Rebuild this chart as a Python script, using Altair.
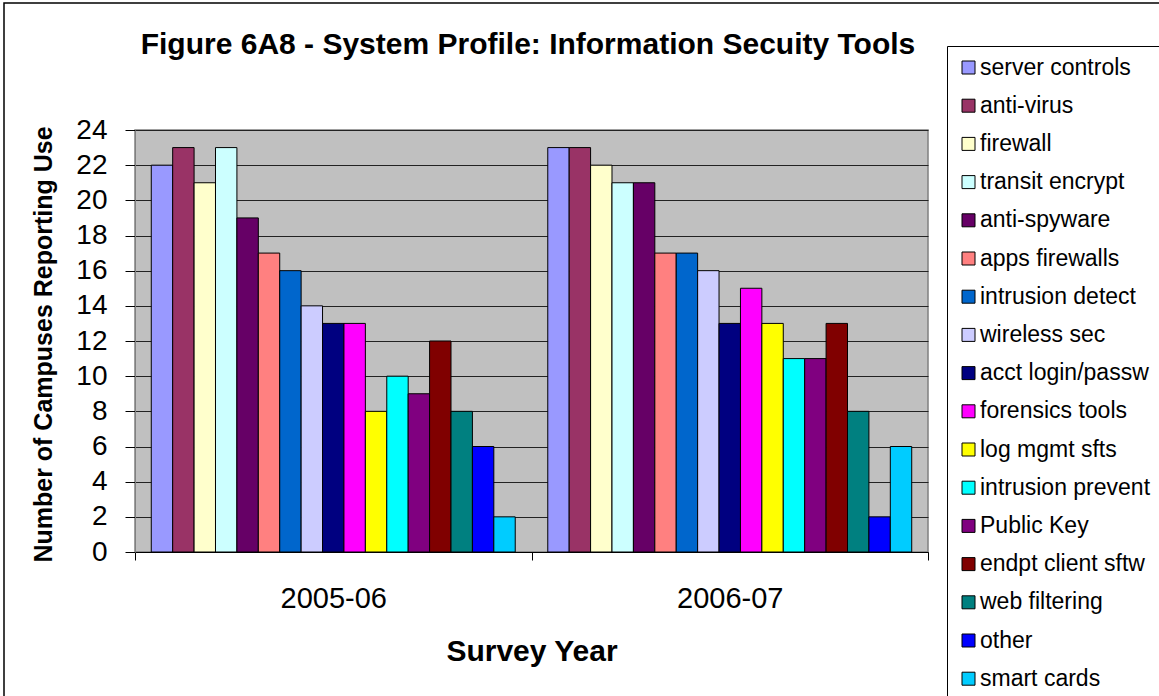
import altair as alt
import pandas as pd

years = ["2005-06", "2006-07"]
tools = ["server controls", "anti-virus", "firewall", "transit encrypt", "anti-spyware",
         "apps firewalls", "intrusion detect", "wireless sec", "acct login/passw",
         "forensics tools", "log mgmt sfts", "intrusion prevent", "Public Key",
         "endpt client sftw", "web filtering", "other", "smart cards"]
colors = ["#9999FF", "#993366", "#FFFFCC", "#CCFFFF", "#660066", "#FF8080", "#0066CC",
          "#CCCCFF", "#000080", "#FF00FF", "#FFFF00", "#00FFFF", "#800080", "#800000",
          "#008080", "#0000FF", "#00CCFF"]
v2005 = [22, 23, 21, 23, 19, 17, 16, 14, 13, 13, 8, 10, 9, 12, 8, 6, 2]
v2006 = [23, 23, 22, 21, 21, 17, 17, 16, 13, 15, 13, 11, 11, 13, 8, 2, 6]
title_text = "Figure 6A8 - System Profile: Information Secuity Tools"

rows = []
for y, vals in zip(years, [v2005, v2006]):
    for t, v in zip(tools, vals):
        rows.append({"year": y, "tool": t, "value": v})
df = pd.DataFrame(rows)

FONT = "Liberation Sans"

bars = alt.Chart(df).mark_bar(stroke="black", strokeWidth=1).encode(
    x=alt.X("year:N", sort=years,
            scale=alt.Scale(paddingInner=0, paddingOuter=0),
            axis=alt.Axis(title="Survey Year", labelAngle=0, tickBand="extent",
                          labelFontSize=29, labelFont=FONT, labelColor="black",
                          labelPadding=24, tickSize=8, tickColor="black",
                          domainColor="black", titleFontSize=30, titleFont=FONT,
                          titleFontWeight="bold", titleColor="black",
                          titleY=108, titleBaseline="alphabetic")),
    xOffset=alt.XOffset("tool:N", sort=tools,
                        scale=alt.Scale(paddingInner=0, paddingOuter=0.76)),
    y=alt.Y("value:Q", scale=alt.Scale(domain=[0, 24], nice=False),
            axis=alt.Axis(title="Number of Campuses Reporting Use",
                          values=list(range(0, 25, 2)), labelFontSize=28,
                          labelFont=FONT, labelColor="black", labelPadding=18,
                          tickSize=10, tickColor="black", domainColor="#808080",
                          grid=True, gridColor="#222222", gridWidth=1,
                          titleFontSize=25, titleFont=FONT, titleFontWeight="bold",
                          titleColor="black", titleX=-84, titleY=214,
                          titleBaseline="alphabetic", titleAlign="center")),
    color=alt.Color("tool:N", sort=tools,
                    scale=alt.Scale(domain=tools, range=colors),
                    legend=alt.Legend(title=None, orient="none", legendX=812, legendY=-84,
                                      symbolType="square", symbolSize=169,
                                      symbolStrokeColor="black", symbolStrokeWidth=1,
                                      labelFontSize=23, labelFont=FONT, labelColor="black",
                                      labelOffset=0, rowPadding=14.2, padding=10,
                                      strokeColor="black", fillColor="white",
                                      labelLimit=400)),
)

frame = alt.Chart(pd.DataFrame({"k": [0]})).mark_rect(
    fillOpacity=0, stroke="black", strokeWidth=1.5
).encode(
    x=alt.value(-131), x2=alt.value(1100), y=alt.value(-127), y2=alt.value(600)
)

title = alt.Chart(pd.DataFrame({"k": [0]})).mark_text(
    font=FONT, fontSize=30, fontWeight="bold", color="black",
    align="center", baseline="alphabetic"
).encode(
    text=alt.value(title_text), x=alt.value(393), y=alt.value(-76)
)

chart = alt.layer(bars, frame, title).properties(
    width=793, height=422,
    autosize=alt.AutoSizeParams(type="none"),
    padding={"left": 135, "top": 130, "right": 231, "bottom": 144},
    background="white",
).configure_view(fill="#C0C0C0", stroke="#808080", strokeWidth=1.5)

chart.save("out.html", embed_options={"renderer": "svg", "actions": False})
